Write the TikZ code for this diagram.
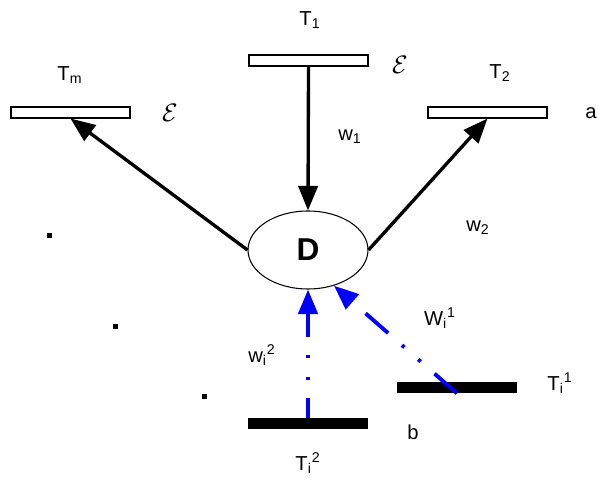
\documentclass[tikz,border=0pt]{standalone}
\usepackage{fontspec}
\setmainfont{Liberation Sans}
\usepackage{tikz}
\usetikzlibrary{positioning, shapes.geometric, arrows.meta}

\begin{document}
\begin{tikzpicture}[
  >={Triangle[length=14pt, width=11pt]},
  every node/.style={font=\fontsize{11.5}{13}\selectfont},
  openbar/.style={draw, line width=0.6pt, fill=white, inner sep=0pt,
                  minimum width=2.38cm, minimum height=0.22cm},
  solidbar/.style={fill=black, inner sep=0pt,
                   minimum width=2.4cm, minimum height=0.22cm},
  flow/.style={->, line width=1.9pt},
  bflow/.style={->, line width=2.2pt, blue,
                dash pattern=on 17pt off 10.5pt on 1.8pt off 10.5pt on 1.8pt off 10.5pt},
  blob/.style={fill=black, inner sep=0pt, minimum size=0.1cm},
  eps/.style={font=\Large}
]
\useasboundingbox (0,0) rectangle (11.96,9.56);

% Targets on top (open bars)
\node[openbar] (t1) at (6.17, 8.35) {};
\node[openbar] (tm) at (1.41, 7.31) {};
\node[openbar] (t2) at (9.75, 7.31) {};
\node (t1lab) at (6.2, 9.16) {T\textsubscript{1}};
\node (tmlab) at (1.4, 8.06) {T\textsubscript{m}};
\node (t2lab) at (10.0, 8.1) {T\textsubscript{2}};
\node[eps] (eps1) at (8.0, 8.26) {$\mathcal{E}$};
\node[eps] (eps2) at (3.4, 7.3) {$\mathcal{E}$};
\node (alab) at (11.82, 7.3) {a};

% Central node
\node[draw, ellipse, line width=0.6pt, inner sep=0pt,
      minimum width=2.4cm, minimum height=1.56cm,
      font=\fontsize{18}{20}\selectfont\bfseries] (D) at (6.16, 4.56) {D};

% Sources below (solid bars)
\node[solidbar] (ti2) at (6.16, 1.09) {};
\node[solidbar] (ti1) at (9.14, 1.81) {};
\node (ti2lab) at (6.16, 0.3) {T\textsubscript{i}\textsuperscript{2}};
\node (ti1lab) at (11.2, 1.9) {T\textsubscript{i}\textsuperscript{1}};
\node (blab) at (8.26, 0.92) {b};

% Black arrows
\draw[flow] (t1.south) -- (D.north);
\draw[flow] (D.west) -- (tm.south);
\draw[flow] (D.east) -- (t2.south);
\node (w1) at (7.0, 6.82) {w\textsubscript{1}};
\node (w2) at (9.56, 5.0) {w\textsubscript{2}};

% Blue dash-dot arrows
\draw[bflow, dash phase=6pt] (ti2.north) -- (D.south);
\draw[bflow] (ti1.south) -- (D.-54);
\node (wi1) at (8.8, 3.2) {W\textsubscript{i}\textsuperscript{1}};
\node (wi2) at (5.24, 2.46) {w\textsubscript{i}\textsuperscript{2}};

% Ellipsis dots
\node[blob] (dot1) at (0.98, 4.84) {};
\node[blob] (dot2) at (2.3, 3.02) {};
\node[blob] (dot3) at (4.08, 1.62) {};

\end{tikzpicture}
\end{document}
